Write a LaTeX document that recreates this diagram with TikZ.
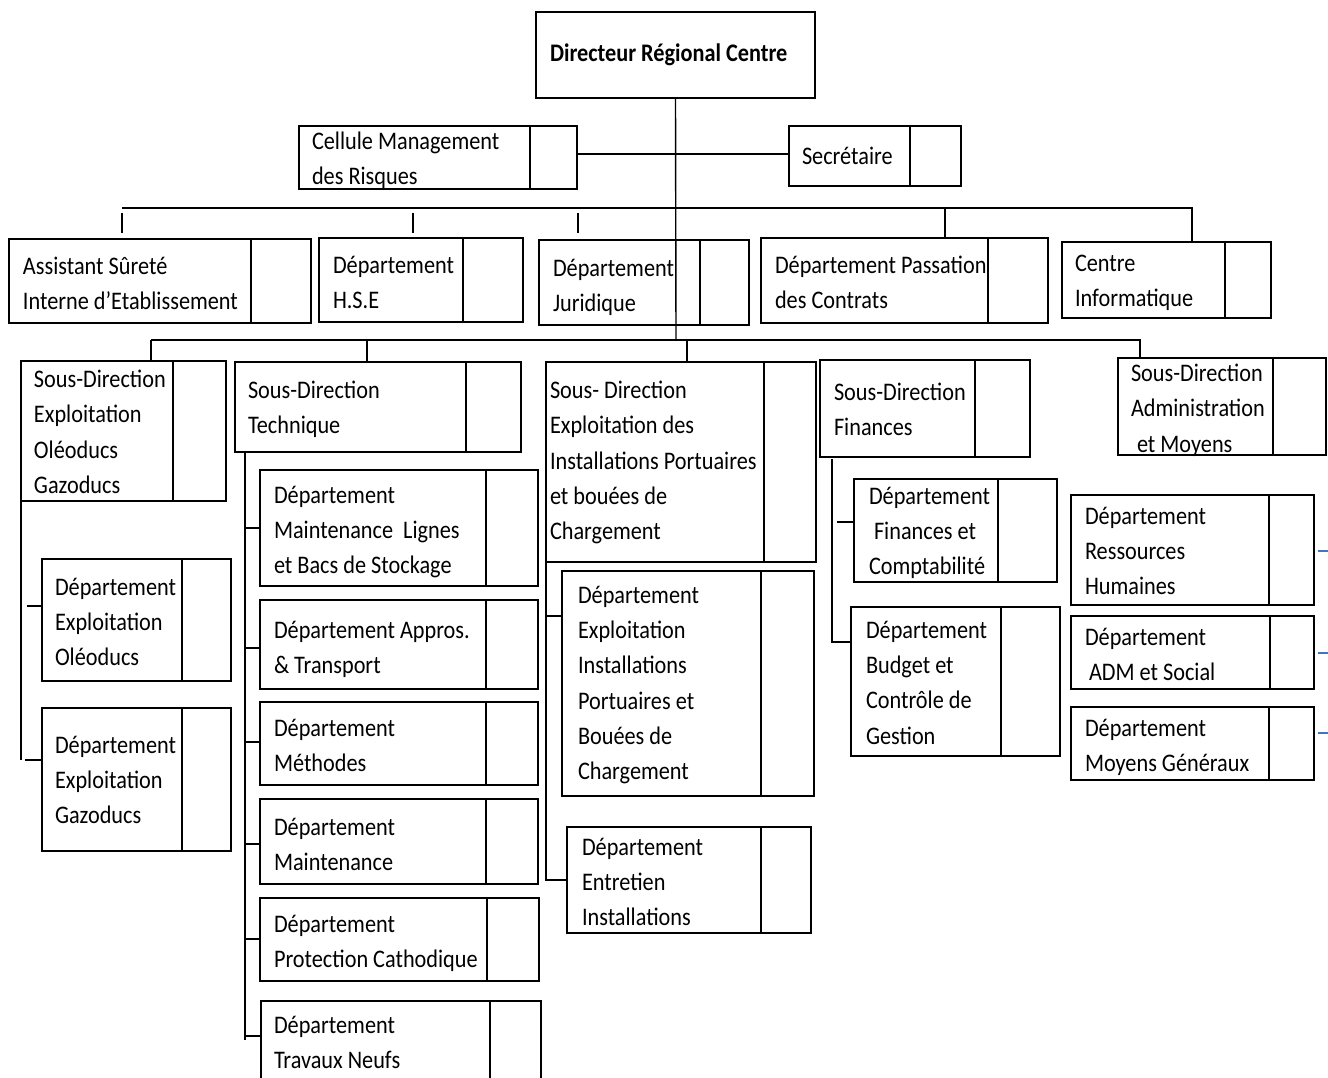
\documentclass[tikz,border=0pt]{standalone}
\usepackage{fontspec}
\setmainfont{Carlito}[FakeStretch=0.88]

\tikzset{
  box/.style={draw=black, line width=1.7pt, inner sep=0pt, outer sep=0pt},
  divline/.style={line width=1.2pt},
  conn/.style={line width=1.4pt},
  lbl/.style={inner sep=0pt, outer sep=0pt, align=left, anchor=north west,
    font=\fontsize{25.3}{35.3}\selectfont, execute at begin node={\rule{0pt}{24pt}}},
  bluetick/.style={draw={rgb,255:red,68;green,114;blue,196}, line width=2pt},
}

% #1 name, #2-#5 corners (left, top, right, bottom), #6 divider x,
% #7 text x, #8 first baseline y, #9 text
\newcommand\orgbox[9]{%
  \node[box, anchor=north west, minimum width={(#4-#2)*1pt},
        minimum height={(#5-#3)*1pt}] (#1) at (#2,#3) {};
  \draw[divline] (#6,#3) -- (#6,#5);
  \node[lbl] (#1-t) at (#7,#8-17) {#9};
}

\begin{document}
\begin{tikzpicture}[x=1pt, y=-1pt]
\fill[white] (0,0) rectangle (1328,1077);
\clip (0,0) rectangle (1328,1077);

% head of the organisation
\node[box, anchor=north west, minimum width=279pt, minimum height=86pt] (dir) at (536,12) {};
\node[lbl, font=\fontsize{25.3}{35.3}\selectfont\bfseries] (dir-t) at (550,61-24) {Directeur Régional Centre};

% staff units
\orgbox{cell}{299}{126}{577}{189}{530}{312}{149}{Cellule Management\\des Risques}
\orgbox{sec}{789}{126}{961}{186}{910}{802}{157}{Secrétaire}

% departments attached to the director
\orgbox{asst}{9}{239}{311}{323}{251}{23}{274}{Assistant Sûreté\\Interne d’Etablissement}
\orgbox{hse}{319}{238}{523}{322}{463}{333}{273}{Département\\H.S.E}
\orgbox{jur}{539}{240}{749}{325}{700}{553}{276}{Département\\Juridique}
\orgbox{pass}{761}{238}{1048}{323}{988}{775}{273}{Département Passation\\des Contrats}
\orgbox{info}{1062}{242}{1271}{318}{1225}{1075}{272}{Centre\\Informatique}

% sub-directorates
\orgbox{sdOG}{21}{361}{226}{501}{173}{34}{387}{Sous-Direction\\Exploitation\\Oléoducs\\Gazoducs}
\orgbox{sdT}{235}{362}{521}{452}{466}{248}{398}{Sous-Direction\\Technique}
\orgbox{sdP}{546}{362}{816}{562}{764}{550}{398}{Sous- Direction\\Exploitation des\\Installations Portuaires\\et bouées de\\Chargement}
\orgbox{sdF}{820}{360}{1030}{457}{975}{834}{400}{Sous-Direction\\Finances}
\orgbox{sdA}{1118}{358}{1326}{455}{1273}{1131}{381}{Sous-Direction\\Administration\\\hspace{6pt}et Moyens}

% pipelines operation
\orgbox{dOle}{42}{559}{231}{681}{182}{55}{595}{Département\\Exploitation\\Oléoducs}
\orgbox{dGaz}{42}{708}{231}{851}{182}{55}{753}{Département\\Exploitation\\Gazoducs}

% technical
\orgbox{dML}{260}{470}{538}{586}{486}{274}{503}{Département\\Maintenance\ \ Lignes\\et Bacs de Stockage}
\orgbox{dAT}{260}{600}{538}{689}{486}{274}{638}{Département Appros.\\\& Transport}
\orgbox{dMe}{260}{702}{538}{785}{486}{274}{736}{Département\\Méthodes}
\orgbox{dMa}{260}{799}{538}{884}{486}{274}{835}{Département\\Maintenance}
\orgbox{dPC}{260}{898}{539}{981}{487}{274}{932}{Département\\Protection Cathodique}
\orgbox{dTN}{261}{1001}{541}{1110}{490}{274}{1033}{Département\\Travaux Neufs}

% port installations
\orgbox{dEIP}{562}{571}{814}{796}{761}{578}{603}{Département\\Exploitation\\Installations\\Portuaires et\\Bouées de\\Chargement}
\orgbox{dEI}{567}{827}{811}{933}{761}{582}{855}{Département\\Entretien\\Installations}

% finances
\orgbox{dFC}{854}{479}{1057}{582}{998}{869}{504}{Département\\\hspace{5pt}Finances et\\Comptabilité}
\orgbox{dBC}{851}{607}{1060}{756}{1001}{866}{638}{Département\\Budget et\\Contrôle de\\Gestion}

% administration
\orgbox{dRH}{1071}{495}{1314}{605}{1269}{1085}{524}{Département\\Ressources\\Humaines}
\orgbox{dADM}{1071}{616}{1314}{689}{1270}{1085}{645}{Département\\\hspace{4pt}ADM et Social}
\orgbox{dMG}{1071}{707}{1314}{780}{1269}{1085}{736}{Département\\Moyens Généraux}

% ---- connectors ----
\coordinate (j3) at (676,340);
\draw[conn] (dir.south) -- (j3);
\draw[conn] (cell.east |- 0,154) -- (sec.west |- 0,154);

% bus of the directly attached departments
\coordinate (h2L) at (122,208);
\coordinate (h2R) at (1192,208);
\draw[conn] (h2L) -- (h2R) -- (h2R |- info.north);
\draw[conn, shorten <=5pt, shorten >=6pt] (h2L) -- (h2L |- asst.north);
\draw[conn, shorten <=5pt, shorten >=5pt] (413,208) -- (413,208 |- hse.north);
\draw[conn, shorten <=5pt, shorten >=7pt] (578,208) -- (578,208 |- jur.north);
\draw[conn] (945,208) -- (945,208 |- pass.north);

% bus of the sub-directorates
\coordinate (h3L) at (151,340);
\coordinate (h3R) at (1140,340);
\draw[conn] (h3L) -- (h3R) -- (h3R |- sdA.north);
\draw[conn] (h3L) -- (h3L |- sdOG.north);
\draw[conn] (367,340) -- (367,340 |- sdT.north);
\draw[conn] (687,340) -- (687,340 |- sdP.north);

% pipelines branch
\coordinate (bOG) at (21,760);
\draw[conn] (sdOG.south west) -- (bOG);
\draw[conn] (27,606) -- (dOle.west |- 0,606);
\draw[conn] (25,760) -- (dGaz.west |- bOG);

% technical branch
\coordinate (bT) at (245,1040);
\draw[conn] (245,452) -- (bT);
\draw[conn] (245,528) -- (dML.west |- 0,528);
\draw[conn] (245,648) -- (dAT.west |- 0,648);
\draw[conn] (245,742) -- (dMe.west |- 0,742);
\draw[conn] (245,844) -- (dMa.west |- 0,844);
\draw[conn] (245,939) -- (dPC.west |- 0,939);
\draw[conn] (245,1036) -- (dTN.west |- 0,1036);

% port branch
\coordinate (bP) at (546,880);
\draw[conn] (sdP.south west) -- (bP) -- (dEI.west |- bP);
\draw[conn] (546,616) -- (dEIP.west |- 0,616);

% finances branch
\coordinate (bF) at (832,642);
\draw[conn] (832,459) -- (bF) -- (dBC.west |- bF);
\draw[conn] (837,522) -- (dFC.west |- 0,522);

% short blue marks on the right edge
\coordinate (rhT) at (1318,551);
\coordinate (admT) at (1318,653);
\coordinate (mgT) at (1318,733);
\draw[bluetick] (rhT) -- ++(10,0);
\draw[bluetick] (admT) -- ++(10,0);
\draw[bluetick] (mgT) -- ++(10,0);
\end{tikzpicture}
\end{document}
